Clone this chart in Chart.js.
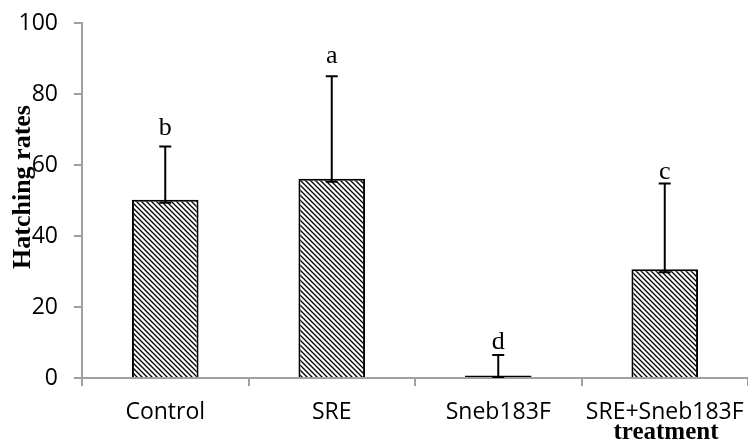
<!DOCTYPE html>
<html>
<head>
<meta charset="utf-8">
<script src="https://cdn.jsdelivr.net/npm/chart.js@4.4.1/dist/chart.umd.min.js"></script>
<style>
html,body{margin:0;padding:0;background:#fff;}
#wrap{width:748px;height:441px;position:relative;}
</style>
</head>
<body>
<div id="wrap"><canvas id="c" width="748" height="441"></canvas></div>
<script>
const categories = ["Control", "SRE", "Sneb183F", "SRE+Sneb183F"];
const hatchingRates = [50.2, 56.1, 0.7, 30.6];
const errorPlus = [15.0, 28.9, 5.8, 24.2];
const groupLetters = ["b", "a", "d", "c"];
const yTicks = [0, 20, 40, 60, 80, 100];
const yTitle = "Hatching rates";
const xTitle = "treatment";

// style only: gap in px between error cap and letter baseline
const letterGap = [12, 13, 6, 4];

function makeHatch() {
  const s = 5;
  const pc = document.createElement('canvas');
  pc.width = s; pc.height = s;
  const g = pc.getContext('2d');
  g.fillStyle = '#fff';
  g.fillRect(0, 0, s, s);
  g.strokeStyle = '#000';
  g.lineWidth = 1.3;
  g.beginPath();
  g.moveTo(-1, -1); g.lineTo(s + 1, s + 1);
  g.moveTo(-1, s - 1); g.lineTo(1, s + 1);
  g.moveTo(s - 1, -1); g.lineTo(s + 1, 1);
  g.stroke();
  return g.createPattern(pc, 'repeat');
}

const extras = {
  id: 'extras',
  afterDatasetsDraw(chart) {
    const ctx = chart.ctx;
    const meta = chart.getDatasetMeta(0);
    const y = chart.scales.y;
    const zero = y.getPixelForValue(0);
    ctx.save();
    ctx.strokeStyle = '#000';
    ctx.lineWidth = 2;
    meta.data.forEach((bar, i) => {
      const x = bar.x;
      const top = y.getPixelForValue(hatchingRates[i] + errorPlus[i]);
      const base = Math.min(y.getPixelForValue(hatchingRates[i]) + 3, zero - 1);
      ctx.beginPath();
      ctx.moveTo(x, base); ctx.lineTo(x, top);
      ctx.moveTo(x - 6, top); ctx.lineTo(x + 6, top);
      ctx.moveTo(x - 6, base); ctx.lineTo(x + 6, base);
      ctx.stroke();
      ctx.fillStyle = '#000';
      ctx.font = '26px "Liberation Serif", "Times New Roman", serif';
      ctx.textAlign = 'center';
      ctx.textBaseline = 'alphabetic';
      ctx.fillText(groupLetters[i], x, top - letterGap[i]);
    });
    // axis titles
    ctx.fillStyle = '#000';
    ctx.font = 'bold 25px "Liberation Serif", "Times New Roman", serif';
    ctx.textAlign = 'center';
    ctx.textBaseline = 'alphabetic';
    ctx.fillText(xTitle, 666, 439);
    ctx.font = 'bold 26px "Liberation Serif", "Times New Roman", serif';
    ctx.translate(30, 187);
    ctx.rotate(-Math.PI / 2);
    ctx.fillText(yTitle, 0, 0);
    ctx.restore();
  }
};

new Chart(document.getElementById('c'), {
  type: 'bar',
  data: {
    labels: categories,
    datasets: [{
      data: hatchingRates,
      backgroundColor: makeHatch(),
      borderColor: '#000',
      borderWidth: 2,
      borderSkipped: (c) => (hatchingRates[c.dataIndex] < 2 ? false : 'start'),
      barPercentage: 0.4,
      categoryPercentage: 1.0
    }]
  },
  options: {
    responsive: false,
    animation: false,
    devicePixelRatio: 1,
    layout: { padding: { top: 23, right: 0, bottom: 0, left: 0 } },
    plugins: { legend: { display: false }, tooltip: { enabled: false } },
    scales: {
      x: {
        offset: true,
        grid: { display: true, offset: true, drawOnChartArea: false, drawTicks: true, tickLength: 8, color: '#a0a0a0', lineWidth: 2 },
        border: { display: true, color: '#a0a0a0', width: 2 },
        ticks: { color: '#000', font: { family: '"Open Sans"', size: 23 }, padding: 13, maxRotation: 0, autoSkip: false },
        afterFit(s) { s.height = 63; s.paddingLeft = 0; s.paddingRight = 0; }
      },
      y: {
        min: 0, max: 100,
        afterBuildTicks(s) { s.ticks = yTicks.map(v => ({ value: v })); },
        grid: { display: true, drawOnChartArea: false, drawTicks: true, tickLength: 8, color: '#a0a0a0', lineWidth: 2 },
        border: { display: true, color: '#a0a0a0', width: 2 },
        ticks: { color: '#000', font: { family: '"Open Sans"', size: 23 }, padding: 16 },
        afterFit(s) { s.width = 82; s.paddingTop = 0; s.paddingBottom = 0; }
      }
    }
  },
  plugins: [extras]
});
</script>
</body>
</html>
